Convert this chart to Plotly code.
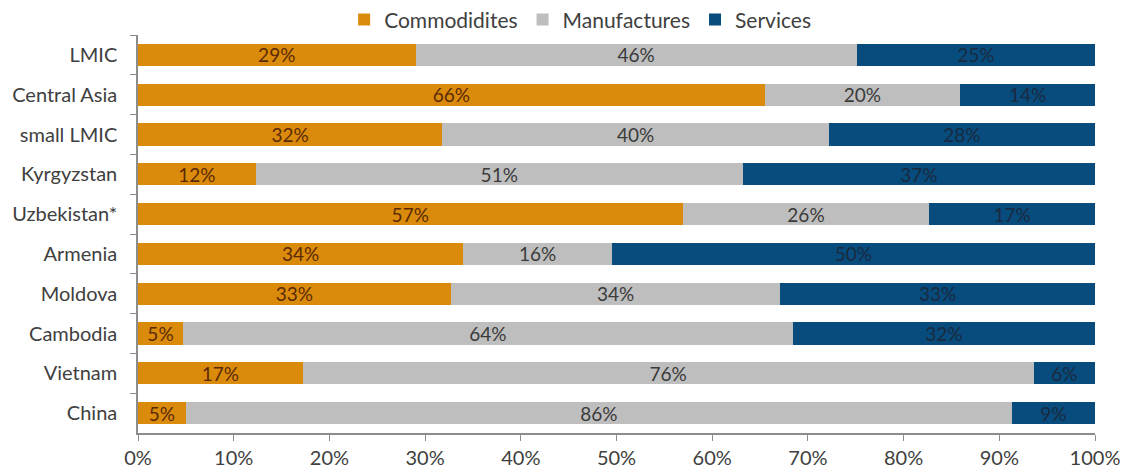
import plotly.graph_objects as go

categories = ["LMIC", "Central Asia", "small LMIC", "Kyrgyzstan", "Uzbekistan*",
              "Armenia", "Moldova", "Cambodia", "Vietnam", "China"]
commodities = [29.0, 65.5, 31.8, 12.3, 56.9, 34.0, 32.7, 4.7, 17.2, 5.0]
manufactures = [46.1, 20.4, 40.4, 50.9, 25.8, 15.5, 34.4, 63.7, 76.4, 86.3]
services = [24.9, 14.1, 27.8, 36.8, 17.3, 50.5, 32.9, 31.6, 6.4, 8.7]
commodities_lbl = ["29%", "66%", "32%", "12%", "57%", "34%", "33%", "5%", "17%", "5%"]
manufactures_lbl = ["46%", "20%", "40%", "51%", "26%", "16%", "34%", "64%", "76%", "86%"]
services_lbl = ["25%", "14%", "28%", "37%", "17%", "50%", "33%", "32%", "6%", "9%"]
xticks = [0, 10, 20, 30, 40, 50, 60, 70, 80, 90, 100]

FONT = "Lato, 'Open Sans', sans-serif"

fig = go.Figure()
series = [
    ("Commodidites", commodities, commodities_lbl, "#DB8B0B", "#5a2a06"),
    ("Manufactures", manufactures, manufactures_lbl, "#BEBEBE", "#3a3a3a"),
    ("Services", services, services_lbl, "#074C7D", "#1a2a40"),
]
for name, vals, lbls, col, tcol in series:
    fig.add_trace(go.Bar(
        y=categories, x=vals, name=name, orientation="h",
        marker=dict(color=col, line=dict(width=0)),
        text=lbls, textposition="inside", insidetextanchor="middle",
        textfont=dict(color=tcol, size=19, family=FONT),
        constraintext="none",
        hoverinfo="skip",
    ))

fig.update_layout(
    barmode="stack",
    bargap=0.44,
    width=1121, height=470,
    margin=dict(l=138, r=26, t=35, b=37, autoexpand=False),
    paper_bgcolor="white", plot_bgcolor="white",
    font=dict(family=FONT, size=20, color="#404040"),
    uniformtext=dict(mode=False),
    legend=dict(orientation="h", x=0.462, xanchor="center", y=1.038, yanchor="middle",
                font=dict(size=21, color="#404040"), traceorder="normal",
                itemwidth=30, bgcolor="rgba(0,0,0,0)", tracegroupgap=0),
    xaxis=dict(range=[0, 100], tickvals=xticks, ticktext=[f"{v}%" for v in xticks],
               automargin=False,
               showgrid=False, zeroline=False, showline=True, linecolor="#8c8c8c",
               linewidth=1.5, ticks="outside", ticklen=6, tickcolor="#8c8c8c",
               tickfont=dict(size=20, color="#404040")),
    yaxis=dict(categoryorder="array", categoryarray=categories, autorange="reversed",
               automargin=False,
               showgrid=False, showline=True, linecolor="#8c8c8c", linewidth=1.5,
               ticks="outside", ticklen=6, tickcolor="#8c8c8c", tickson="boundaries",
               ticklabelstandoff=15,
               tickfont=dict(size=20, color="#404040")),
)

fig.write_html("out.html", config={"displayModeBar": False},
               post_script="document.body.style.margin='0';document.body.style.overflow='hidden';")
